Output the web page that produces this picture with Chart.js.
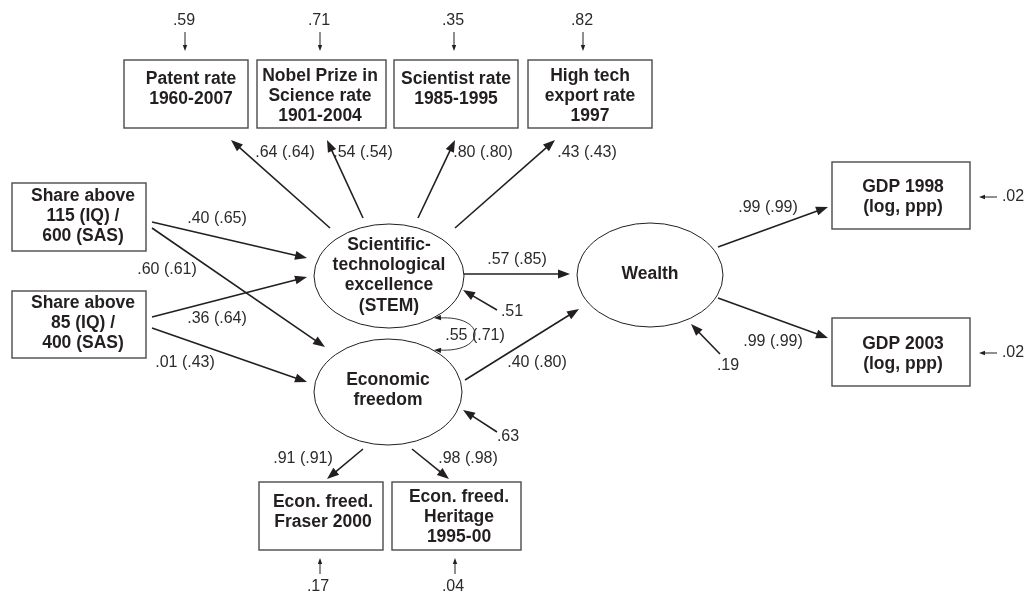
<!DOCTYPE html>
<html>
<head>
<meta charset="utf-8">
<script src="https://cdn.jsdelivr.net/npm/chart.js@4.4.1/dist/chart.umd.min.js"></script>
<style>
  html, body { margin: 0; padding: 0; background: #fff; }
  #wrap { width: 1034px; height: 594px; }
</style>
</head>
<body>
<div id="wrap"><canvas id="pathChart" width="1034" height="594"></canvas></div>
<script>
// path model values (standardized coefficient, value in brackets)
const indicatorNames = ['Patent rate|1960-2007', 'Nobel Prize in|Science rate|1901-2004', 'Scientist rate|1985-1995', 'High tech|export rate|1997'];
const indicatorLoadings = [0.64, 0.54, 0.80, 0.43];
const indicatorLoadingsAlt = [0.64, 0.54, 0.80, 0.43];
const indicatorErrors = [0.59, 0.71, 0.35, 0.82];

const predictorNames = ['Share above|115 (IQ) /|600 (SAS)', 'Share above|85 (IQ) /|400 (SAS)'];
const pathsToStem = [0.40, 0.36];
const pathsToStemAlt = [0.65, 0.64];
const pathsToEcon = [0.60, 0.01];
const pathsToEconAlt = [0.61, 0.43];

const latentNames = ['Scientific-|technological|excellence|(STEM)', 'Economic|freedom', 'Wealth'];
const latentErrors = [0.51, 0.63, 0.19];
const pathsToWealth = [0.57, 0.40];
const pathsToWealthAlt = [0.85, 0.80];
const latentCorr = [0.55, 0.71];

const wealthNames = ['GDP 1998|(log, ppp)', 'GDP 2003|(log, ppp)'];
const wealthLoadings = [0.99, 0.99];
const wealthLoadingsAlt = [0.99, 0.99];
const wealthErrors = [0.02, 0.02];

const econNames = ['Econ. freed.|Fraser 2000', 'Econ. freed.|Heritage|1995-00'];
const econLoadings = [0.91, 0.98];
const econLoadingsAlt = [0.91, 0.98];
const econErrors = [0.17, 0.04];

// layout in diagram units (x 0-1034, y 0-594)
// boxes: [x1, y1, x2, y2, text centre x, first line y]
const layout = {
  indicatorBoxes: [[124, 60, 248, 128, 191, 79], [257, 60, 386, 128, 320, 76], [394, 60, 518, 128, 456, 79], [528, 60, 652, 128, 590, 76]],
  indicatorArrows: [[330, 228, 231, 140], [363, 218, 327, 140], [418, 218, 455, 140], [455, 228, 555, 140]],
  indicatorLabels: [[285, 153], [363, 153], [483, 153], [587, 153]],
  indicatorErrX: [185, 320, 454, 583],
  predictorBoxes: [[12, 183, 146, 251, 83, 196], [12, 291, 146, 358, 83, 303]],
  stemArrows: [[152, 222, 307, 258], [152, 317, 307, 277]],
  stemLabels: [[217, 219], [217, 319]],
  econArrows: [[152, 228, 325, 347], [152, 328, 307, 382]],
  econLabels: [[167, 270], [185, 363]],
  ellipses: [[389, 276, 75, 52], [388, 392, 74, 53], [650, 275, 73, 52]],
  ellipseTextY: [245, 380, 274],
  errArrows: [[497, 310, 463, 290], [497, 432, 463, 410], [720, 354, 691, 324]],
  errLabels: [[512, 312], [508, 437], [728, 366]],
  wealthArrows: [[464, 274, 570, 274], [465, 380, 579, 309]],
  wealthLabels: [[517, 260], [537, 363]],
  corr: [434, 318, 487, 315, 487, 353, 434, 350],
  corrLabel: [475, 336],
  gdpBoxes: [[832, 162, 970, 229, 903, 187], [832, 318, 970, 386, 903, 344]],
  gdpArrows: [[718, 247, 828, 207], [718, 298, 828, 338]],
  gdpLabels: [[768, 208], [773, 342]],
  gdpErrY: [197, 353],
  freedBoxes: [[259, 482, 383, 550, 323, 502], [392, 482, 521, 550, 459, 497]],
  freedArrows: [[363, 449, 327, 479], [412, 449, 449, 479]],
  freedLabels: [[303, 459], [468, 459]],
  freedErrX: [320, 455]
};

const fmt = v => v.toFixed(2).replace(/^0/, '');
const pair = (a, b) => fmt(a) + ' (' + fmt(b) + ')';

const pathDiagram = {
  id: 'pathDiagram',
  afterDatasetsDraw(chart) {
    const ctx = chart.ctx;
    const X = v => chart.scales.x.getPixelForValue(v);
    const Y = v => chart.scales.y.getPixelForValue(v);
    const ink = '#231f20';

    function head(x1, y1, x2, y2, len, half) {
      const a = Math.atan2(Y(y2) - Y(y1), X(x2) - X(x1));
      ctx.beginPath();
      ctx.moveTo(X(x2), Y(y2));
      ctx.lineTo(X(x2) - len * Math.cos(a) + half * Math.sin(a), Y(y2) - len * Math.sin(a) - half * Math.cos(a));
      ctx.lineTo(X(x2) - len * Math.cos(a) - half * Math.sin(a), Y(y2) - len * Math.sin(a) + half * Math.cos(a));
      ctx.closePath();
      ctx.fill();
    }
    function arrow(p, small) {
      const [x1, y1, x2, y2] = p;
      ctx.strokeStyle = ink;
      ctx.fillStyle = ink;
      ctx.lineWidth = small ? 1 : 1.6;
      const len = small ? 6 : 12, half = small ? 2.2 : 4.5;
      const a = Math.atan2(Y(y2) - Y(y1), X(x2) - X(x1));
      ctx.beginPath();
      ctx.moveTo(X(x1), Y(y1));
      ctx.lineTo(X(x2) - (len - 2) * Math.cos(a), Y(y2) - (len - 2) * Math.sin(a));
      ctx.stroke();
      head(x1, y1, x2, y2, len, half);
    }
    function label(text, x, y) {
      ctx.fillStyle = '#2b2b2b';
      ctx.font = '16px "Liberation Sans", Arial, sans-serif';
      ctx.textAlign = 'center';
      ctx.textBaseline = 'middle';
      ctx.fillText(text, X(x), Y(y));
    }
    function lines(text, cx, y0) {
      ctx.fillStyle = ink;
      ctx.font = 'bold 17.5px "Liberation Sans", Arial, sans-serif';
      ctx.textAlign = 'center';
      ctx.textBaseline = 'middle';
      text.split('|').forEach((t, i) => ctx.fillText(t, X(cx), Y(y0 + i * 20.3)));
    }
    function box(b, text) {
      ctx.strokeStyle = '#4a4a4a';
      ctx.lineWidth = 1.4;
      ctx.strokeRect(X(b[0]), Y(b[1]), X(b[2]) - X(b[0]), Y(b[3]) - Y(b[1]));
      lines(text, b[4], b[5]);
    }

    // measured indicators of STEM
    indicatorNames.forEach((n, i) => {
      box(layout.indicatorBoxes[i], n);
      arrow(layout.indicatorArrows[i]);
      label(pair(indicatorLoadings[i], indicatorLoadingsAlt[i]), ...layout.indicatorLabels[i]);
      const ex = layout.indicatorErrX[i];
      label(fmt(indicatorErrors[i]), ex - 1, 21);
      arrow([ex, 32, ex, 51], true);
    });

    // predictors
    predictorNames.forEach((n, i) => {
      box(layout.predictorBoxes[i], n);
      arrow(layout.stemArrows[i]);
      arrow(layout.econArrows[i]);
      label(pair(pathsToStem[i], pathsToStemAlt[i]), ...layout.stemLabels[i]);
      label(pair(pathsToEcon[i], pathsToEconAlt[i]), ...layout.econLabels[i]);
    });

    // latent variables
    latentNames.forEach((n, i) => {
      const [cx, cy, rx, ry] = layout.ellipses[i];
      ctx.strokeStyle = ink;
      ctx.lineWidth = 1;
      ctx.beginPath();
      ctx.ellipse(X(cx), Y(cy), rx, ry, 0, 0, Math.PI * 2);
      ctx.stroke();
      lines(n, cx, layout.ellipseTextY[i]);
      arrow(layout.errArrows[i]);
      label(fmt(latentErrors[i]), ...layout.errLabels[i]);
    });

    pathsToWealth.forEach((v, i) => {
      arrow(layout.wealthArrows[i]);
      label(pair(v, pathsToWealthAlt[i]), ...layout.wealthLabels[i]);
    });

    // correlation between STEM and economic freedom (double-headed curve)
    const c = layout.corr;
    label(pair(latentCorr[0], latentCorr[1]), ...layout.corrLabel);
    ctx.strokeStyle = ink;
    ctx.fillStyle = ink;
    ctx.lineWidth = 0.9;
    ctx.beginPath();
    ctx.moveTo(X(c[0]) + 5, Y(c[1]));
    ctx.bezierCurveTo(X(c[2]), Y(c[3]), X(c[4]), Y(c[5]), X(c[6]) + 5, Y(c[7]));
    ctx.stroke();
    head(c[2], c[3], c[0], c[1], 7, 2.6);
    head(c[4], c[5], c[6], c[7], 7, 2.6);

    // wealth indicators
    wealthNames.forEach((n, i) => {
      box(layout.gdpBoxes[i], n);
      arrow(layout.gdpArrows[i]);
      label(pair(wealthLoadings[i], wealthLoadingsAlt[i]), ...layout.gdpLabels[i]);
      const ey = layout.gdpErrY[i];
      arrow([997, ey, 979, ey], true);
      label(fmt(wealthErrors[i]), 1013, ey);
    });

    // economic freedom indicators
    econNames.forEach((n, i) => {
      box(layout.freedBoxes[i], n);
      arrow(layout.freedArrows[i]);
      label(pair(econLoadings[i], econLoadingsAlt[i]), ...layout.freedLabels[i]);
      const ex = layout.freedErrX[i];
      arrow([ex, 574, ex, 558], true);
      label(fmt(econErrors[i]), ex - 2, 587);
    });
  }
};

const ctx = document.getElementById('pathChart').getContext('2d');
const pathChart = new Chart(ctx, {
  type: 'scatter',
  data: {
    datasets: [{
      label: 'Latent variables',
      data: layout.ellipses.map(e => ({ x: e[0], y: e[1] })),
      pointRadius: 0,
      showLine: false
    }]
  },
  options: {
    responsive: false,
    animation: false,
    layout: { padding: 0 },
    plugins: { legend: { display: false }, tooltip: { enabled: false } },
    scales: {
      x: { type: 'linear', min: 0, max: 1034, display: false },
      y: { type: 'linear', min: 0, max: 594, reverse: true, display: false }
    }
  },
  plugins: [pathDiagram]
});
</script>
</body>
</html>
